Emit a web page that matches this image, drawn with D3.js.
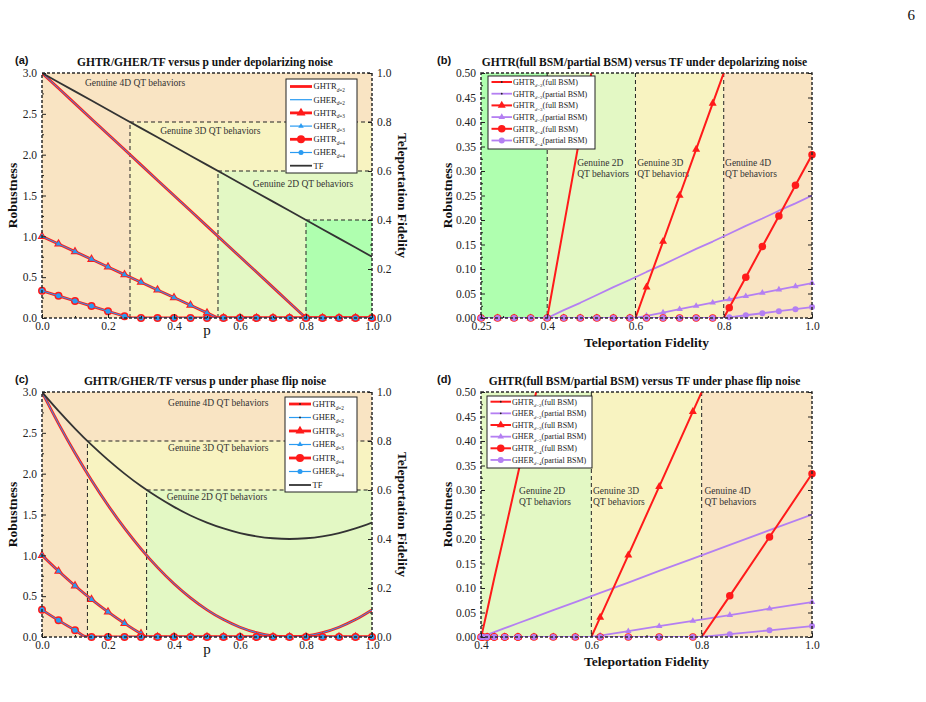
<!DOCTYPE html>
<html>
<head>
<meta charset="utf-8">
<script src="https://cdnjs.cloudflare.com/ajax/libs/d3/7.8.5/d3.min.js"></script>
<style>
  body { margin: 0; background: #fff; }
  svg { display: block; font-family: "Liberation Serif", "Times New Roman", serif; }
  svg text { font-family: "Liberation Serif", "Times New Roman", serif; }
  svg text.sans { font-family: "Liberation Sans", Arial, sans-serif; }
</style>
</head>
<body>
<svg id="fig" width="926" height="702"></svg>
<script>
// noise parameter p, sampled every 0.05
const pGrid = [0, 0.05, 0.1, 0.15, 0.2, 0.25, 0.3, 0.35, 0.4, 0.45, 0.5, 0.55, 0.6, 0.65, 0.7, 0.75, 0.8, 0.85, 0.9, 0.95, 1];

// depolarizing noise
const tfDep = [1, 0.9625, 0.925, 0.8875, 0.85, 0.8125, 0.775, 0.7375, 0.7, 0.6625, 0.625, 0.5875, 0.55, 0.5125, 0.475, 0.4375, 0.4, 0.3625, 0.325, 0.2875, 0.25];
const ghtrDep2 = [3, 2.8125, 2.625, 2.4375, 2.25, 2.0625, 1.875, 1.6875, 1.5, 1.3125, 1.125, 0.9375, 0.75, 0.5625, 0.375, 0.1875, 0, 0, 0, 0, 0];
const ghtrDep3 = [1, 0.906, 0.813, 0.719, 0.625, 0.531, 0.438, 0.344, 0.25, 0.156, 0.063, 0, 0, 0, 0, 0, 0, 0, 0, 0, 0];
const ghtrDep4 = [0.333, 0.271, 0.208, 0.146, 0.083, 0.021, 0, 0, 0, 0, 0, 0, 0, 0, 0, 0, 0, 0, 0, 0, 0];
// GHER reads identical to GHTR in panel (a)
const gherDep2 = ghtrDep2.slice();
const gherDep3 = ghtrDep3.slice();
const gherDep4 = ghtrDep4.slice();
const partDep2 = [0.25, 0.234, 0.219, 0.203, 0.188, 0.172, 0.156, 0.141, 0.125, 0.109, 0.094, 0.078, 0.063, 0.047, 0.031, 0.016, 0, 0, 0, 0, 0];
const partDep3 = [0.0714, 0.0647, 0.058, 0.0513, 0.0446, 0.0379, 0.0313, 0.0246, 0.0179, 0.0112, 0.0045, 0, 0, 0, 0, 0, 0, 0, 0, 0, 0];
const partDep4 = [0.0222, 0.0181, 0.0139, 0.0097, 0.0056, 0.0014, 0, 0, 0, 0, 0, 0, 0, 0, 0, 0, 0, 0, 0, 0, 0];

// phase flip noise
const tfPhase = [1, 0.923, 0.851, 0.784, 0.723, 0.667, 0.616, 0.571, 0.531, 0.496, 0.467, 0.443, 0.424, 0.411, 0.403, 0.4, 0.403, 0.411, 0.424, 0.443, 0.467];
const ghtrPhase2 = [3, 2.613, 2.253, 1.92, 1.613, 1.333, 1.08, 0.853, 0.653, 0.48, 0.333, 0.213, 0.12, 0.053, 0.013, 0, 0.013, 0.053, 0.12, 0.213, 0.333];
const ghtrPhase3 = [1, 0.807, 0.627, 0.46, 0.307, 0.167, 0.04, 0, 0, 0, 0, 0, 0, 0, 0, 0, 0, 0, 0, 0, 0];
const ghtrPhase4 = [0.333, 0.204, 0.084, 0, 0, 0, 0, 0, 0, 0, 0, 0, 0, 0, 0, 0, 0, 0, 0, 0, 0];
const gherPhase2 = ghtrPhase2.slice();
const gherPhase3 = ghtrPhase3.slice();
const gherPhase4 = ghtrPhase4.slice();
const partPhase2 = [0.25, 0.218, 0.188, 0.16, 0.135, 0.111, 0.09, 0.071, 0.055, 0.04, 0.028, 0.018, 0.01, 0.0044, 0.0011, 0, 0.0011, 0.0044, 0.01, 0.018, 0.028];
const partPhase3 = [0.0714, 0.0577, 0.0448, 0.0329, 0.022, 0.0119, 0.0029, 0, 0, 0, 0, 0, 0, 0, 0, 0, 0, 0, 0, 0, 0];
const partPhase4 = [0.0222, 0.0137, 0.0057, 0, 0, 0, 0, 0, 0, 0, 0, 0, 0, 0, 0, 0, 0, 0, 0, 0, 0];

// where each d=2,3,4 curve reaches zero
const zeroDepP = [0.8, 0.5333, 0.2667];
const zeroPhaseP = [0.75, 0.317, 0.1376];
const zeroTF = [0.4, 0.6, 0.8];
// fidelity thresholds for genuine 4D / 3D / 2D QT, and the p where TF crosses them
const fidelityLevels = [0.8, 0.6, 0.4];
const depLevelP = [0.2667, 0.5333, 0.8];
const phaseLevelP = [0.1376, 0.317, null];

const RED = "#ff1a1a";
const BLUE = "#2a9bf2";
const PURPLE = "#b47ff2";
const DARK = "#333";
const FILL = { d4: "#f9e4c3", d3: "#f8f3c1", d2: "#e3f8c4", below: "#afffaf" };

const svg = d3.select("#fig");

function makePanel(box, xDomain, yDomain, id) {
  const x = d3.scaleLinear().domain(xDomain).range([box.x0, box.x1]);
  const y = d3.scaleLinear().domain(yDomain).range([box.y1, box.y0]);
  const g = svg.append("g");
  g.append("clipPath").attr("id", "clip-" + id).append("rect")
    .attr("x", box.x0).attr("y", box.y0)
    .attr("width", box.x1 - box.x0).attr("height", box.y1 - box.y0);
  const bg = g.append("g");
  const series = g.append("g");
  return { id, box, x, y, g, bg, series };
}

function symbolPath(type, size) {
  if (type === "triangle") return d3.symbol(d3.symbolTriangle, (Math.sqrt(3) / 4) * size * size)();
  return d3.symbol(d3.symbolCircle, (Math.PI * size * size) / 4)();
}

function withCrossing(xs, ys, zeroX) {
  const pts = xs.map((v, i) => [v, ys[i]]);
  if (zeroX != null) pts.push([zeroX, 0]);
  return pts.sort((a, b) => a[0] - b[0]);
}

function drawSeries(P, xs, s, yScale) {
  const ys = s.values;
  const layer = P.series.append("g");
  const line = d3.line()
    .x((d) => P.x(d[0]))
    .y((d) => yScale(d[1]))
    .curve(s.curve || d3.curveLinear);
  layer.append("path")
    .attr("d", line(withCrossing(xs, ys, s.zero)))
    .attr("clip-path", `url(#clip-${P.id})`)
    .attr("fill", "none")
    .attr("stroke", s.color)
    .attr("stroke-width", s.width)
    .attr("stroke-linejoin", "round");
  if (!s.marker) return;
  const [xMin, xMax] = P.x.domain();
  const yMax = yScale.domain()[1];
  xs.forEach((xv, i) => {
    if (xv < xMin - 1e-9 || xv > xMax + 1e-9 || ys[i] > yMax + 1e-9) return;
    layer.append("path")
      .attr("d", symbolPath(s.marker, s.size))
      .attr("transform", `translate(${P.x(xv)},${yScale(ys[i])})`)
      .attr("fill", s.color);
  });
}

function styleAxis(sel) {
  sel.attr("font-family", null).attr("font-size", null);
  sel.select(".domain").remove();
  sel.selectAll("line").attr("stroke", "#222");
  sel.selectAll("text").attr("font-size", 11.5).attr("fill", "#222");
}

function drawAxes(P, cfg) {
  const { box } = P;
  P.g.append("g").attr("transform", `translate(0,${box.y1})`)
    .call(d3.axisBottom(P.x).tickValues(cfg.xMajor).tickSize(-4).tickPadding(4).tickFormat(cfg.xFmt))
    .call(styleAxis);
  P.g.append("g").attr("transform", `translate(0,${box.y1})`)
    .call(d3.axisBottom(P.x).tickValues(cfg.xMinor).tickSize(-2).tickFormat(""))
    .call(styleAxis);
  P.g.append("g").attr("transform", `translate(${box.x0},0)`)
    .call(d3.axisLeft(P.y).tickValues(cfg.yMajor).tickSize(-4).tickPadding(5).tickFormat(cfg.yFmt))
    .call(styleAxis);
  P.g.append("g").attr("transform", `translate(${box.x0},0)`)
    .call(d3.axisLeft(P.y).tickValues(cfg.yMinor).tickSize(-2).tickFormat(""))
    .call(styleAxis);
  if (cfg.yR) {
    P.g.append("g").attr("transform", `translate(${box.x1},0)`)
      .call(d3.axisRight(cfg.yR).tickValues([0, 0.2, 0.4, 0.6, 0.8, 1]).tickSize(-4).tickPadding(5).tickFormat(d3.format(".1f")))
      .call(styleAxis);
    P.g.append("g").attr("transform", `translate(${box.x1},0)`)
      .call(d3.axisRight(cfg.yR).tickValues([0.1, 0.3, 0.5, 0.7, 0.9]).tickSize(-2).tickFormat(""))
      .call(styleAxis);
  } else {
    P.g.append("g").attr("transform", `translate(${box.x1},0)`)
      .call(d3.axisRight(P.y).tickValues(cfg.yMajor).tickSize(-4).tickFormat(""))
      .call(styleAxis);
  }
}

function drawFrame(P) {
  const { box } = P;
  P.g.append("rect")
    .attr("x", box.x0).attr("y", box.y0)
    .attr("width", box.x1 - box.x0).attr("height", box.y1 - box.y0)
    .attr("fill", "none").attr("stroke", "#2a2a2a").attr("stroke-width", 1.5)
    .attr("stroke-dasharray", "3,2");
}

function drawTitles(P, lab) {
  const { box } = P;
  const cx = (box.x0 + box.x1) / 2;
  const cy = (box.y0 + box.y1) / 2;
  P.g.append("text").attr("x", cx - 2).attr("y", box.y0 - 7)
    .attr("text-anchor", "middle").attr("font-size", 11.5).attr("font-weight", "bold").attr("fill", "#111")
    .text(lab.title);
  P.g.append("text").attr("class", "sans").attr("x", box.x0 - lab.letterDx).attr("y", box.y0 - 9)
    .attr("font-size", 11).attr("font-weight", "bold").attr("fill", "#111")
    .text(lab.letter);
  P.g.append("text").attr("transform", `translate(${box.x0 - lab.yLabelDx},${cy}) rotate(-90)`)
    .attr("text-anchor", "middle").attr("font-size", 13.5).attr("font-weight", "bold").attr("fill", "#111")
    .text("Robustness");
  const xl = P.g.append("text").attr("x", cx).attr("text-anchor", "middle").attr("fill", "#111").text(lab.xLabel);
  if (lab.xBold) {
    xl.attr("y", box.y1 + 29).attr("font-size", 13.5).attr("font-weight", "bold");
  } else {
    xl.attr("y", box.y1 + 17).attr("font-size", 15);
  }
}

function drawRightLabel(P) {
  const { box } = P;
  P.g.append("text").attr("transform", `translate(${box.x1 + 26},${(box.y0 + box.y1) / 2}) rotate(90)`)
    .attr("text-anchor", "middle").attr("font-size", 13.5).attr("font-weight", "bold").attr("fill", "#111")
    .text("Teleportation Fidelity");
}

function drawLevelRegions(P, yR, levelP) {
  const colors = [FILL.d3, FILL.d2, FILL.below];
  P.bg.append("rect")
    .attr("x", P.x(0)).attr("y", yR(1)).attr("width", P.x(1) - P.x(0)).attr("height", yR(0) - yR(1))
    .attr("fill", FILL.d4);
  levelP.forEach((pv, i) => {
    if (pv == null) return;
    P.bg.append("rect")
      .attr("x", P.x(pv)).attr("y", yR(fidelityLevels[i]))
      .attr("width", P.x(1) - P.x(pv)).attr("height", yR(0) - yR(fidelityLevels[i]))
      .attr("fill", colors[i]);
  });
  levelP.forEach((pv, i) => {
    if (pv == null) return;
    P.bg.append("path")
      .attr("d", `M${P.x(pv)},${yR(0)}V${yR(fidelityLevels[i])}H${P.x(1)}`)
      .attr("fill", "none").attr("stroke", "#222").attr("stroke-width", 1).attr("stroke-dasharray", "4,3");
  });
}

function drawTFBands(P) {
  const [xMin, xMax] = P.x.domain();
  const edges = [xMin, ...fidelityLevels.slice().reverse(), xMax];
  const colors = [FILL.below, FILL.d2, FILL.d3, FILL.d4];
  colors.forEach((c, i) => {
    const a = Math.max(edges[i], xMin);
    const b = edges[i + 1];
    if (b <= a) return;
    P.bg.append("rect")
      .attr("x", P.x(a)).attr("y", P.box.y0).attr("width", P.x(b) - P.x(a)).attr("height", P.box.y1 - P.box.y0)
      .attr("fill", c);
  });
  fidelityLevels.forEach((lv) => {
    if (lv <= xMin) return;
    P.bg.append("line")
      .attr("x1", P.x(lv)).attr("x2", P.x(lv)).attr("y1", P.box.y0).attr("y2", P.box.y1)
      .attr("stroke", "#222").attr("stroke-width", 1).attr("stroke-dasharray", "4,3");
  });
}

function drawNotes(P, yScale, notes) {
  notes.forEach((n) => {
    const t = P.bg.append("text").attr("x", P.x(n.x)).attr("y", yScale(n.y))
      .attr("font-size", 9.5).attr("fill", "#333");
    n.lines.forEach((ln, i) => {
      t.append("tspan").attr("x", P.x(n.x)).attr("dy", i === 0 ? 0 : 11.5).text(ln);
    });
  });
}

function drawLegend(P, L, items) {
  const g = P.g.append("g");
  g.append("rect")
    .attr("x", L.x0).attr("y", L.y0).attr("width", L.x1 - L.x0).attr("height", L.y1 - L.y0)
    .attr("fill", "#fff").attr("stroke", "#222").attr("stroke-width", 1);
  items.forEach((it, i) => {
    const yy = L.row0 + i * L.step;
    const mx = (L.lx0 + L.lx1) / 2;
    g.append("line").attr("x1", L.lx0).attr("x2", L.lx1).attr("y1", yy).attr("y2", yy)
      .attr("stroke", it.color).attr("stroke-width", it.width);
    if (it.marker) {
      g.append("path").attr("d", symbolPath(it.marker, it.size))
        .attr("transform", `translate(${mx},${yy})`).attr("fill", it.color);
    }
    if (it.dot) g.append("circle").attr("cx", mx).attr("cy", yy).attr("r", 0.9).attr("fill", "#222");
    const t = g.append("text").attr("x", L.tx).attr("y", yy + L.fs * 0.35)
      .attr("font-size", L.fs).attr("fill", "#222");
    t.append("tspan").text(it.name);
    if (it.sub) {
      t.append("tspan").attr("font-size", L.fs * 0.62).attr("dy", L.fs * 0.3).attr("font-style", "italic").text("d");
      t.append("tspan").attr("font-size", L.fs * 0.62).text("=" + it.sub);
    }
    if (it.suffix) t.append("tspan").attr("dy", -L.fs * 0.3).text(it.suffix);
  });
}

// ---------- panels (a) and (c): robustness and TF versus p ----------
function drawPPanel(box, id, lab, curveData, notes, legendBox) {
  const P = makePanel(box, [0, 1], [0, 3], id);
  const yR = d3.scaleLinear().domain([0, 1]).range([box.y1, box.y0]);
  drawLevelRegions(P, yR, curveData.levelP);
  drawNotes(P, yR, notes);
  const curve = curveData.curve;
  const z = curveData.zero;
  const specs = [
    { values: curveData.ghtr[0], color: RED, width: 2.8, zero: z[0], curve },
    { values: curveData.gher[0], color: BLUE, width: 1, zero: z[0], curve },
    { values: curveData.ghtr[1], color: RED, width: 2.8, zero: z[1], curve, marker: "triangle", size: 9 },
    { values: curveData.gher[1], color: BLUE, width: 1, zero: z[1], curve, marker: "triangle", size: 5.5 },
    { values: curveData.ghtr[2], color: RED, width: 2.8, zero: z[2], curve, marker: "circle", size: 8 },
    { values: curveData.gher[2], color: BLUE, width: 1, zero: z[2], curve, marker: "circle", size: 5 },
  ];
  specs.forEach((s) => drawSeries(P, pGrid, s, P.y));
  drawSeries(P, pGrid, { values: curveData.tf, color: DARK, width: 1.8, curve }, yR);
  drawFrame(P);
  drawAxes(P, {
    xMajor: [0, 0.2, 0.4, 0.6, 0.8, 1], xMinor: [0.1, 0.3, 0.5, 0.7, 0.9], xFmt: d3.format(".1f"),
    yMajor: [0, 0.5, 1, 1.5, 2, 2.5, 3], yMinor: [0.25, 0.75, 1.25, 1.75, 2.25, 2.75], yFmt: d3.format(".1f"),
    yR,
  });
  drawTitles(P, { ...lab, xLabel: "p", xBold: false, letterDx: 27, yLabelDx: 25.5 });
  drawRightLabel(P);
  const dot = curveData.dots;
  drawLegend(P, legendBox, [
    { name: "GHTR", sub: "2", color: RED, width: 2.8, dot },
    { name: "GHER", sub: "2", color: BLUE, width: 1.2, dot },
    { name: "GHTR", sub: "3", color: RED, width: 2.8, marker: "triangle", size: 9 },
    { name: "GHER", sub: "3", color: BLUE, width: 1.2, marker: "triangle", size: 5.5 },
    { name: "GHTR", sub: "4", color: RED, width: 2.8, marker: "circle", size: 8 },
    { name: "GHER", sub: "4", color: BLUE, width: 1.2, marker: "circle", size: 5 },
    { name: "TF", color: DARK, width: 1.8 },
  ]);
}

// ---------- panels (b) and (d): robustness versus TF ----------
function drawTFPanel(box, id, lab, axisCfg, tfs, full, part, partName, notes, legendBox) {
  const P = makePanel(box, axisCfg.domain, [0, 0.5], id);
  drawTFBands(P);
  drawNotes(P, P.y, notes);
  const specs = [
    { values: full[0], color: RED, width: 2, zero: zeroTF[0] },
    { values: part[0], color: PURPLE, width: 1.8, zero: zeroTF[0] },
    { values: full[1], color: RED, width: 2, zero: zeroTF[1], marker: "triangle", size: 8 },
    { values: part[1], color: PURPLE, width: 1.8, zero: zeroTF[1], marker: "triangle", size: 6.5 },
    { values: full[2], color: RED, width: 2, zero: zeroTF[2], marker: "circle", size: 7.5 },
    { values: part[2], color: PURPLE, width: 1.8, zero: zeroTF[2], marker: "circle", size: 6 },
  ];
  specs.forEach((s) => drawSeries(P, tfs, s, P.y));
  drawFrame(P);
  drawAxes(P, {
    xMajor: axisCfg.major, xMinor: axisCfg.minor,
    xFmt: (d) => (d === 0.25 ? "0.25" : d3.format(".1f")(d)),
    yMajor: d3.range(0, 0.5001, 0.05), yMinor: d3.range(0.025, 0.5, 0.05), yFmt: d3.format(".2f"),
  });
  drawTitles(P, { ...lab, xLabel: "Teleportation Fidelity", xBold: true, letterDx: 44, yLabelDx: 29.5 });
  drawLegend(P, legendBox, [
    { name: "GHTR", sub: "2", suffix: "(full BSM)", color: RED, width: 2, dot: true },
    { name: partName, sub: "2", suffix: "(partial BSM)", color: PURPLE, width: 1.8, dot: true },
    { name: "GHTR", sub: "3", suffix: "(full BSM)", color: RED, width: 2, marker: "triangle", size: 8 },
    { name: partName, sub: "3", suffix: "(partial BSM)", color: PURPLE, width: 1.8, marker: "triangle", size: 6.5 },
    { name: "GHTR", sub: "4", suffix: "(full BSM)", color: RED, width: 2, marker: "circle", size: 7.5 },
    { name: partName, sub: "4", suffix: "(partial BSM)", color: PURPLE, width: 1.8, marker: "circle", size: 6 },
  ]);
}

drawPPanel(
  { x0: 42, x1: 372, y0: 73, y1: 318 }, "a",
  { letter: "(a)", title: "GHTR/GHER/TF versus p under depolarizing noise" },
  { ghtr: [ghtrDep2, ghtrDep3, ghtrDep4], gher: [gherDep2, gherDep3, gherDep4], tf: tfDep,
    zero: zeroDepP, levelP: depLevelP, curve: d3.curveLinear, dots: false },
  [
    { x: 0.13, y: 0.947, lines: ["Genuine 4D QT behaviors"] },
    { x: 0.358, y: 0.751, lines: ["Genuine 3D QT behaviors"] },
    { x: 0.639, y: 0.535, lines: ["Genuine 2D QT behaviors"] },
  ],
  { x0: 286, x1: 357, y0: 79, y1: 173, row0: 86.5, step: 13.2, lx0: 290, lx1: 312, tx: 313.5, fs: 8.5 }
);

drawPPanel(
  { x0: 42, x1: 372, y0: 392, y1: 637 }, "c",
  { letter: "(c)", title: "GHTR/GHER/TF versus p under phase flip noise" },
  { ghtr: [ghtrPhase2, ghtrPhase3, ghtrPhase4], gher: [gherPhase2, gherPhase3, gherPhase4], tf: tfPhase,
    zero: zeroPhaseP, levelP: phaseLevelP, curve: d3.curveMonotoneX, dots: true },
  [
    { x: 0.382, y: 0.944, lines: ["Genuine 4D QT behaviors"] },
    { x: 0.382, y: 0.76, lines: ["Genuine 3D QT behaviors"] },
    { x: 0.378, y: 0.56, lines: ["Genuine 2D QT behaviors"] },
  ],
  { x0: 285, x1: 357, y0: 397, y1: 492, row0: 404, step: 13.5, lx0: 289, lx1: 311, tx: 312.5, fs: 8.5 }
);

drawTFPanel(
  { x0: 481, x1: 812, y0: 73, y1: 318 }, "b",
  { letter: "(b)", title: "GHTR(full BSM/partial BSM) versus TF under depolarizing noise" },
  { domain: [0.25, 1], major: [0.25, 0.4, 0.6, 0.8, 1], minor: [0.3, 0.5, 0.7, 0.9] },
  tfDep, [ghtrDep2, ghtrDep3, ghtrDep4], [partDep2, partDep3, partDep4], "GHTR",
  [
    { x: 0.468, y: 0.311, lines: ["Genuine 2D", "QT behaviors"] },
    { x: 0.604, y: 0.311, lines: ["Genuine 3D", "QT behaviors"] },
    { x: 0.803, y: 0.311, lines: ["Genuine 4D", "QT behaviors"] },
  ],
  { x0: 488, x1: 595, y0: 76, y1: 149, row0: 82, step: 11.7, lx0: 491.5, lx1: 512, tx: 513, fs: 8 }
);

drawTFPanel(
  { x0: 481, x1: 812, y0: 392, y1: 637 }, "d",
  { letter: "(d)", title: "GHTR(full BSM/partial BSM) versus TF under phase flip noise" },
  { domain: [0.4, 1], major: [0.4, 0.6, 0.8, 1], minor: [0.5, 0.7, 0.9] },
  tfPhase, [ghtrPhase2, ghtrPhase3, ghtrPhase4], [partPhase2, partPhase3, partPhase4], "GHER",
  [
    { x: 0.469, y: 0.292, lines: ["Genuine 2D", "QT behaviors"] },
    { x: 0.603, y: 0.292, lines: ["Genuine 3D", "QT behaviors"] },
    { x: 0.805, y: 0.292, lines: ["Genuine 4D", "QT behaviors"] },
  ],
  { x0: 487, x1: 592, y0: 396, y1: 468, row0: 401.7, step: 11.65, lx0: 490.5, lx1: 511, tx: 512, fs: 8 }
);

// page number
svg.append("text").attr("x", 915).attr("y", 20).attr("text-anchor", "end")
  .attr("font-size", 15).attr("fill", "#111").text("6");
</script>
</body>
</html>
